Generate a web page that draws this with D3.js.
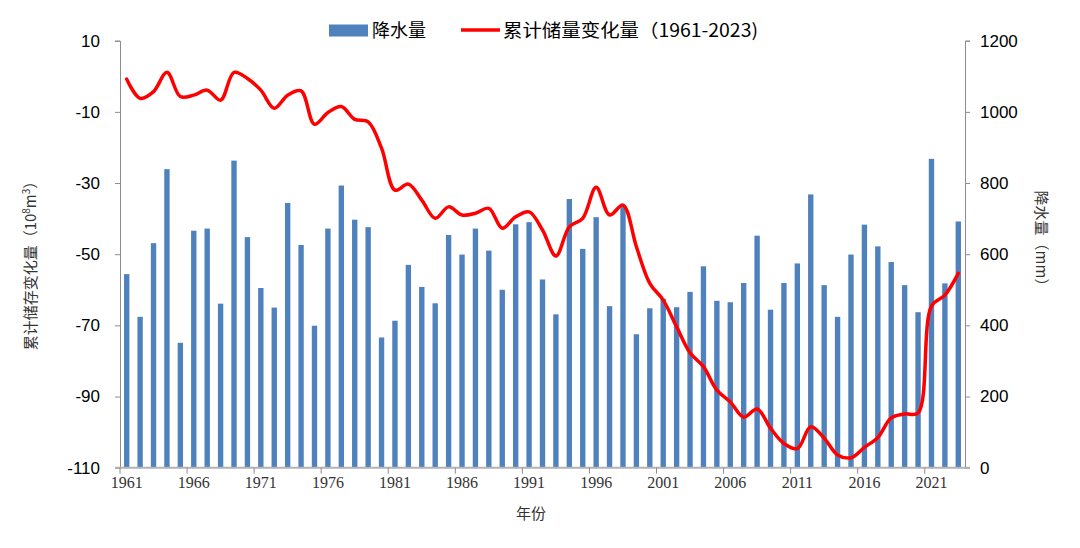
<!DOCTYPE html>
<html><head><meta charset="utf-8">
<script src="https://cdn.jsdelivr.net/npm/d3@7"></script>
<style>body{margin:0;background:#fff}svg{display:block}</style>
</head><body><svg id="c" width="1080" height="548"></svg>
<script>
const years = d3.range(1961, 2024);
const precipitation = [544,424,631,839,351,666,672,461,863,648,505,450,744,626,399,672,793,697,676,366,413,570,
  508,462,654,599,672,610,500,684,690,529,431,755,615,704,454,736,375,448,475,451,494,
  566,469,465,519,652,444,519,574,768,513,424,599,683,622,578,513,437,868,518,692];
const storage = [-0.8,-6.2,-4.3,1.1,-5.7,-5.3,-3.9,-6.7,1.1,-0.6,-3.9,-9.0,-5.3,-4.1,-13.5,-10.2,-8.5,-12.1,-12.8,-20.2,-32.0,-30.3,
  -34.8,-39.9,-36.7,-39.0,-38.5,-37.1,-42.7,-39.5,-38.1,-43.2,-50.5,-42.3,-39.9,-31.2,-39.0,-36.2,-47.9,-58.2,-62.9,-70.4,-77.7,
  -81.6,-88.2,-91.5,-95.8,-93.5,-98.9,-103.2,-104.6,-98.5,-101.7,-106.4,-107.2,-104.3,-101.5,-96.0,-94.9,-94.6,-64.6,-61.5,-55.4];
const leftTicks = [10,-10,-30,-50,-70,-90,-110];
const rightTicks = [0,200,400,600,800,1000,1200];
const xLabelYears = years.filter((y,i)=>i%5===0);

const svg = d3.select("#c");
const L=120, R=965, T=40.7, B=467.7;
const x = d3.scaleBand().domain(years).range([L,R]).padding(0);
const yL = d3.scaleLinear().domain([-110,10]).range([B,T]);
const yR = d3.scaleLinear().domain([0,1200]).range([B,T]);
const sans = "'Liberation Sans', Arial, sans-serif";
const serif = "'Liberation Serif', 'Times New Roman', serif";
const cjk = "'Noto Sans CJK SC', sans-serif";

// bars
const bw = x.bandwidth()*0.4;
svg.append("g").selectAll("rect").data(years).join("rect")
  .attr("x", d=>x(d)+x.bandwidth()/2-bw/2)
  .attr("y", (d,i)=>yR(precipitation[i]))
  .attr("width", bw)
  .attr("height", (d,i)=>B-yR(precipitation[i]))
  .attr("fill", "#4F81BD");

// left axis
const gl = svg.append("g").attr("transform",`translate(${L},0)`)
  .call(d3.axisLeft(yL).tickValues(leftTicks).tickSize(5).tickPadding(15).tickFormat(d=>String(d)));
gl.select(".domain").attr("stroke","#8c8c8c");
gl.selectAll(".tick line").attr("stroke","#8c8c8c");
gl.selectAll("text").attr("font-family",sans).attr("font-size",17).attr("fill","#000");

// right axis
const gr = svg.append("g").attr("transform",`translate(${R},0)`)
  .call(d3.axisRight(yR).tickValues(rightTicks).tickSize(5).tickPadding(10).tickFormat(d=>String(d)));
gr.select(".domain").attr("stroke","#8c8c8c");
gr.selectAll(".tick line").attr("stroke","#8c8c8c");
gr.selectAll("text").attr("font-family",sans).attr("font-size",17).attr("fill","#000");

// x axis
const gx = svg.append("g").attr("transform",`translate(0,${B})`);
gx.append("line").attr("x1",L-5).attr("x2",R+5).attr("y1",0).attr("y2",0)
  .attr("stroke","#b3b3b3").attr("stroke-width",2);
gx.selectAll("line.tk").data(xLabelYears).join("line").attr("class","tk")
  .attr("x1",d=>x(d)).attr("x2",d=>x(d)).attr("y1",0).attr("y2",6).attr("stroke","#8c8c8c");
gx.selectAll("text").data(xLabelYears).join("text")
  .attr("x",d=>x(d)+x.bandwidth()/2).attr("y",20)
  .attr("text-anchor","middle").attr("font-family",serif).attr("font-size",16).attr("fill","#333")
  .text(d=>d);

// line
const line = d3.line().x((d,i)=>x(years[i])+x.bandwidth()/2).y(d=>yL(d)).curve(d3.curveCatmullRom.alpha(0.5));
svg.append("path").datum(storage).attr("d",line).attr("fill","none")
  .attr("stroke","#FF0000").attr("stroke-width",3.5).attr("stroke-linejoin","round").attr("stroke-linecap","round");

// axis titles
svg.append("text").attr("transform","translate(36,262) rotate(-90)")
  .attr("text-anchor","middle").attr("font-family",cjk).attr("font-size",15).attr("fill","#333")
  .html("累计储存变化量（10<tspan dy='-6' font-size='10'>8</tspan><tspan dy='6'>m</tspan><tspan dy='-6' font-size='10'>3</tspan><tspan dy='6'>）</tspan>");
svg.append("text").attr("transform","translate(1036,242) rotate(90)")
  .attr("text-anchor","middle").attr("font-family",cjk).attr("font-size",15).attr("fill","#333")
  .text("降水量（mm）");
svg.append("text").attr("x",531).attr("y",519).attr("text-anchor","middle")
  .attr("font-family",cjk).attr("font-size",15).attr("fill","#333").text("年份");

// legend
const lg = svg.append("g");
lg.append("rect").attr("x",329).attr("y",24.5).attr("width",39).attr("height",12).attr("fill","#4F81BD");
lg.append("text").attr("x",372).attr("y",37).attr("font-family",cjk).attr("font-size",18).attr("fill","#000").text("降水量");
lg.append("line").attr("x1",461).attr("x2",500).attr("y1",30).attr("y2",30).attr("stroke","#FF0000").attr("stroke-width",3.5);
lg.append("text").attr("x",503).attr("y",37).attr("font-family",cjk).attr("font-size",18).attr("fill","#000")
  .attr("textLength",255).attr("lengthAdjust","spacingAndGlyphs").text("累计储量变化量（1961-2023)");
</script></body></html>
